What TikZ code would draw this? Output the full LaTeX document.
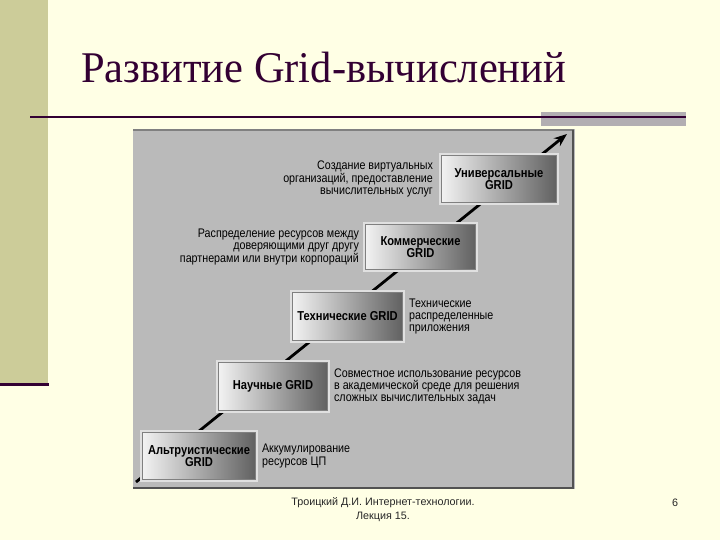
\documentclass[tikz,border=0pt]{standalone}
\usepackage{fontspec}
\setmainfont{Liberation Sans}
\newfontfamily\titlefont[FakeStretch=0.97]{Liberation Serif}
\newfontfamily\narrowfont[FakeStretch=0.86]{Liberation Sans}
\usetikzlibrary{arrows.meta,positioning}
\definecolor{SlideBack}{HTML}{FFFFE5}
\definecolor{SlideBar}{HTML}{CCCC99}
\definecolor{SlideMain}{HTML}{330033}
\definecolor{SlideRule}{HTML}{B2AEB2}
\definecolor{PanelBack}{HTML}{BABABA}
\tikzset{>=Stealth,every node/.style={font=\narrowfont\fontsize{12.5}{12.2}\selectfont},
 gridbox/.style={preaction={draw=black!12,line width=5bp},draw=black!50,line width=0.8bp,
 left color=black!5,right color=black!62,inner sep=0pt,align=center,
 font=\narrowfont\bfseries\fontsize{13}{11.5}\selectfont},
 note/.style={text=black,inner sep=0pt}}

\begin{document}
\begin{tikzpicture}[x=1bp,y=-1bp,node distance=6bp]
\useasboundingbox (0,0) rectangle (720,540);
\fill[SlideBack] (0,0) rectangle (720,540);
\fill[SlideBar] (0,0) rectangle (48,383);
\fill[SlideMain] (0,383) rectangle (49,386);
\node[anchor=base west,inner sep=0pt,text=SlideMain,font=\titlefont\fontsize{44}{44}\selectfont] (title) at (81,83) {Развитие Grid-вычислений};
\fill[SlideRule] (541,112) rectangle (686,126);
\draw[SlideMain,line width=1.5bp] (30,117) -- (686,117);
\fill[PanelBack] (133,129) rectangle (575,489);
\draw[black!50,line width=2bp] (133,130) -- (574,130);
\draw[black!68,line width=2bp] (573,130) -- (573,488) -- (133,488);
\coordinate (riseStart) at (136,482);
\coordinate (riseEnd) at (567,134);
\draw[->,line width=2.8bp,>={Stealth[length=13bp,width=10bp]}] (riseStart) -- (riseEnd);
\node[gridbox,minimum width=115bp,minimum height=47bp] (uni) at (499,179) {Универсальные\\GRID};
\node[gridbox,minimum width=110bp,minimum height=45bp] (commerce) at (420.5,247) {Коммерческие\\GRID};
\node[gridbox,minimum width=110bp,minimum height=48bp] (tech) at (347.5,316.5) {Технические GRID};
\node[gridbox,minimum width=109bp,minimum height=48bp] (science) at (273,386.5) {Научные GRID};
\node[gridbox,minimum width=113bp,minimum height=47bp] (altru) at (199,456) {Альтруистические\\GRID};
\node[note,align=right,left=8bp of uni] (uniText) {Создание виртуальных\\организаций, предоставление\\вычислительных услуг};
\node[note,align=right,left=of commerce] (commerceText) {Распределение ресурсов между\\доверяющими друг другу\\партнерами или внутри корпораций};
\node[note,align=left,right=of tech] (techText) {Технические\\распределенные\\приложения};
\node[note,align=left,right=of science] (scienceText) {Совместное использование ресурсов\\в академической среде для решения\\сложных вычислительных задач};
\node[note,align=left,right=of altru] (altruText) {Аккумулирование\\ресурсов ЦП};
\node[align=center,text=black!85,font=\fontsize{10.8}{14}\selectfont] (footer) at (383,510) {Троицкий Д.И. Интернет-технологии.\\Лекция 15.};
\node[text=black!85,font=\fontsize{10.8}{14}\selectfont] (page) at (675,503) {6};
\end{tikzpicture}
\end{document}
